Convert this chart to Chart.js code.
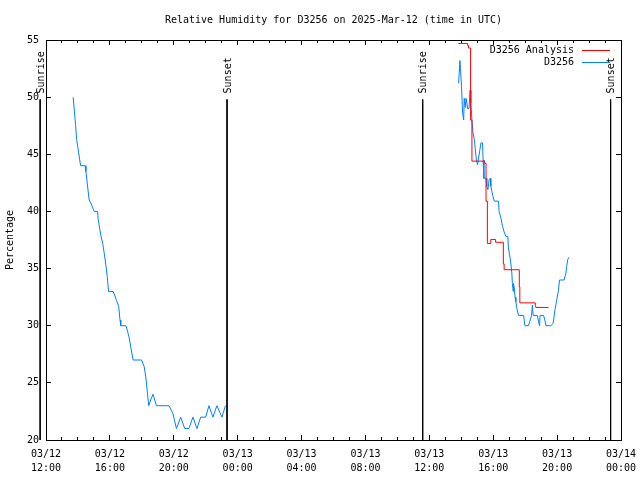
<!DOCTYPE html>
<html>
<head>
    <script src="https://cdn.jsdelivr.net/npm/chart.js"></script>
    <style>
        body { margin: 0; background: #fff; }
        canvas { display: block; }
    </style>
</head>
<body>
<canvas id="chart" width="640" height="480"></canvas>
<script>
    const chartTitle = 'Relative Humidity for D3256 on 2025-Mar-12 (time in UTC)';
    const obsLabel = 'D3256';
    const analysisLabel = 'D3256 Analysis';

    // observations, 03/12
    const dayOneTimes = ['13:42','13:51','13:55','14:01','14:10','14:27','14:30','14:42','14:49','15:01','15:14','15:16','15:26','15:33','15:39','15:45','15:50','15:55','16:12','16:19','16:25','16:33','16:38','16:41','17:00','17:03','17:12','17:27','17:59','18:09','18:15','18:21','18:26','18:33','18:42','18:55','19:42','19:57','20:10','20:26','20:41','20:57','21:12','21:27','21:41','22:00','22:12','22:27','22:42','23:01','23:14'];
    const dayOneValues = [50,47.6,46.3,45.4,44,44,43.5,41,40.7,40,40,39.3,37.9,37.2,36.3,35.3,34.3,33,33,32.6,32.2,31.7,30.5,30,30,29.8,29,27,27,26.4,25.5,24.1,23,23.5,24,23,23,22.3,21,22,21,21,22,21,22,22,23,22,23,22,23];

    // observations, 03/13
    const dayTwoTimes = ['13:50','13:55','13:57','14:01','14:05','14:09','14:11','14:15','14:18','14:24','14:29','14:33','14:36','14:40','14:44','14:49','14:55','14:57','15:01','15:10','15:14','15:20','15:22','15:25','15:33','15:36','15:40','15:45','15:49','15:51','15:58','16:04','16:20','16:22','16:29','16:35','16:41','16:48','16:55','16:57','17:03','17:06','17:10','17:12','17:15','17:16','17:19','17:22','17:25','17:29','17:35','17:54','17:59','18:12','18:18','18:24','18:27','18:30','18:46','18:50','18:54','18:56','19:09','19:14','19:18','19:36','19:45','19:52','19:59','20:05','20:09','20:26','20:33','20:36','20:40','20:45'];
    const dayTwoValues = [51.2,53.2,52.5,50.9,48.6,48,49.9,49.1,49.9,49,49,50.6,49.5,48,46.9,46.3,44.9,44.5,44.1,45.4,46,46,44.5,42.9,42.9,42.2,41.9,42.8,42.9,42.2,41.4,40.9,40.9,40,39.4,38.7,38.2,37.8,37.8,36.8,36,35.5,34.6,33.7,33,33.7,33.3,32.5,32.1,31.5,30.9,30.9,30,30,30.4,30.9,31.8,30.9,30.9,30.4,30,30.9,30.9,30.5,30,30,30.2,31.4,32.3,33.1,34,34,34.6,35.2,35.8,36];

    // analysis, 03/13 (stepped)
    const analysisTimes = ['13:49','14:24','14:27','14:35','14:40','15:28','15:33','15:38','15:51','16:09','16:38','16:41','17:38','17:40','18:38','18:40','19:28'];
    const analysisValues = [54.7,54.5,54.3,48,44.4,44.2,40.9,37.2,37.55,37.3,35.4,34.9,33.4,32,31.7,31.6,31.6];

    const sunNames = ['Sunrise', 'Sunset', 'Sunrise', 'Sunset'];
    const sunTimes = ['03/12 11:38', '03/12 23:20', '03/13 11:35', '03/13 23:21'];

    // x axis is hours since 03/12 12:00
    function hoursFrom(day, hhmm) {
        const [h, m] = hhmm.split(':').map(Number);
        return (day - 12) * 24 + h + m / 60 - 12;
    }
    function tickLabel(v) {
        const total = v + 12;
        const day = 12 + Math.floor(total / 24);
        const hour = total % 24;
        return ['03/' + day, String(hour).padStart(2, '0') + ':00'];
    }

    const obsPoints = dayOneTimes.map((t, i) => ({ x: hoursFrom(12, t), y: dayOneValues[i] }))
        .concat([{ x: 18, y: null }])
        .concat(dayTwoTimes.map((t, i) => ({ x: hoursFrom(13, t), y: dayTwoValues[i] })));
    const analysisPoints = analysisTimes.map((t, i) => ({ x: hoursFrom(13, t), y: analysisValues[i] }));
    const sunX = sunTimes.map(s => hoursFrom(Number(s.slice(3, 5)), s.slice(6)));

    const sunSets = sunX.map(x => ({
        data: [{ x: x, y: 49.8 }, { x: x, y: 20 }],
        borderColor: '#000', borderWidth: 1, pointRadius: 0, clip: false
    }));

    const font = { family: 'DejaVu Sans Mono', size: 10 };
    const axisGrid = len => ({ drawOnChartArea: false, drawTicks: true, tickLength: len, color: '#000', lineWidth: 1 });
    // fixed box sizes so the plot sits where gnuplot put it
    const fixH = h => s => { s.height = h; s.paddingLeft = 0; s.paddingRight = 0; };
    const fixW = w => s => { s.width = w; s.paddingTop = 0; s.paddingBottom = 0; };

    const sunLabels = {
        id: 'sunLabels',
        afterDatasetsDraw(chart) {
            const ctx = chart.ctx;
            const xs = chart.scales.x, ys = chart.scales.y;
            ctx.save();
            ctx.font = '10px "DejaVu Sans Mono"';
            ctx.fillStyle = '#000';
            ctx.textAlign = 'left';
            ctx.textBaseline = 'middle';
            sunX.forEach((x, i) => {
                ctx.save();
                ctx.translate(xs.getPixelForValue(x) + 1, ys.getPixelForValue(49.8) - 6);
                ctx.rotate(-Math.PI / 2);
                ctx.fillText(sunNames[i], 0, 0);
                ctx.restore();
            });
            ctx.restore();
        }
    };

    const keyBox = {
        id: 'keyBox',
        afterDatasetsDraw(chart) {
            const ctx = chart.ctx;
            const rows = [[analysisLabel, 'rgb(255,0,0)'], [obsLabel, 'rgb(0,128,255)']];
            ctx.save();
            ctx.font = '10px "DejaVu Sans Mono"';
            ctx.textAlign = 'right';
            ctx.textBaseline = 'middle';
            rows.forEach((r, i) => {
                const y = 50 + i * 12;
                ctx.fillStyle = '#000';
                ctx.fillText(r[0], 574, y);
                ctx.strokeStyle = r[1];
                ctx.lineWidth = 1;
                ctx.beginPath();
                ctx.moveTo(582, y + 0.5);
                ctx.lineTo(610, y + 0.5);
                ctx.stroke();
            });
            ctx.restore();
        }
    };

    new Chart(document.getElementById('chart'), {
        type: 'line',
        data: {
            datasets: [
                { label: analysisLabel, data: analysisPoints, borderColor: 'rgb(255,0,0)', borderWidth: 1, pointRadius: 0, stepped: true },
                { label: obsLabel, data: obsPoints, borderColor: 'rgb(0,128,255)', borderWidth: 1, pointRadius: 0, tension: 0, spanGaps: false }
            ].concat(sunSets)
        },
        options: {
            responsive: false,
            animation: false,
            layout: { padding: { left: 0, right: 19, top: 0, bottom: 0 } },
            plugins: { legend: { display: false }, tooltip: { enabled: false } },
            scales: {
                xMinor: {
                    type: 'linear', position: 'bottom', weight: 0, min: 0, max: 36,
                    ticks: { stepSize: 1, callback: () => '' },
                    grid: axisGrid(-3), border: { display: false },
                    afterFit: fixH(0)
                },
                x: {
                    type: 'linear', position: 'bottom', weight: 1, min: 0, max: 36,
                    ticks: { stepSize: 4, autoSkip: false, maxRotation: 0, padding: 13, color: '#000',
                             font: { family: 'DejaVu Sans Mono', size: 10, lineHeight: 1.35 }, callback: v => tickLabel(v) },
                    grid: axisGrid(-5), border: { color: '#000' },
                    afterFit: fixH(40)
                },
                xTopMinor: {
                    type: 'linear', position: 'top', weight: 0, min: 0, max: 36,
                    ticks: { stepSize: 1, callback: () => '' },
                    grid: axisGrid(-3), border: { display: false },
                    afterFit: fixH(0)
                },
                xTop: {
                    type: 'linear', position: 'top', weight: 1, min: 0, max: 36,
                    ticks: { stepSize: 4, callback: () => '' },
                    grid: axisGrid(-5), border: { color: '#000' },
                    title: { display: true, text: chartTitle, color: '#000', font: font, padding: { top: 14, bottom: 0 } },
                    afterFit: fixH(40)
                },
                y: {
                    min: 20, max: 55, position: 'left',
                    ticks: { stepSize: 5, padding: 12, color: '#000', font: font },
                    grid: axisGrid(-5), border: { color: '#000' },
                    title: { display: true, text: 'Percentage', color: '#000', font: font },
                    afterFit: fixW(46)
                },
                yRight: {
                    min: 20, max: 55, position: 'right',
                    ticks: { stepSize: 5, callback: () => '' },
                    grid: axisGrid(-5), border: { color: '#000' },
                    afterFit: fixW(0)
                }
            }
        },
        plugins: [sunLabels, keyBox]
    });
</script>
</body>
</html>
